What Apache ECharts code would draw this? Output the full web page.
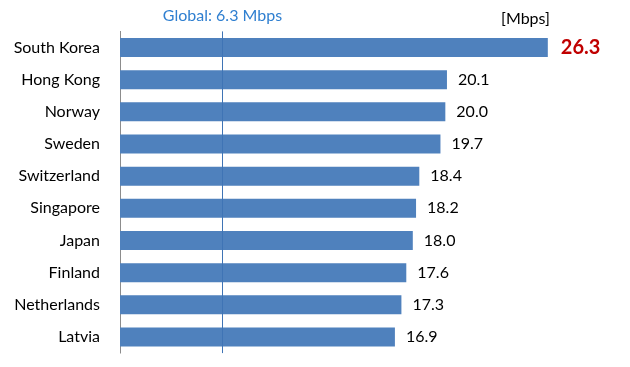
<!DOCTYPE html>
<html><head><meta charset="utf-8">
<script src="https://cdn.jsdelivr.net/npm/echarts@6/dist/echarts.min.js"></script>
<style>html,body{margin:0;padding:0;background:#fff}#c{width:630px;height:367px}</style>
</head><body><div id="c"></div>
<script>
const categories = ['South Korea','Hong Kong','Norway','Sweden','Switzerland','Singapore','Japan','Finland','Netherlands','Latvia'];
const speeds = [26.3, 20.1, 20.0, 19.7, 18.4, 18.2, 18.0, 17.6, 17.3, 16.9];
const globalAverage = 6.3;
const unitLabel = '[Mbps]';
const FONT = 'Lato';

const chart = echarts.init(document.getElementById('c'), null, {renderer:'canvas'});
const data = speeds.map((v, i) => i === 0 ? {
  value: v,
  label: {color:'#c00000', fontSize:20, fontWeight:'bold', distance:13}
} : v);

chart.setOption({
  animation:false,
  textStyle:{fontFamily:FONT},
  title:{text:unitLabel, left:496, top:6, textStyle:{fontFamily:FONT, fontSize:16, fontWeight:'normal', color:'#000'}},
  grid:{left:120, right:22, top:31.4, bottom:13.9},
  xAxis:{type:'value', min:0, max:30, show:false},
  yAxis:{type:'category', data:categories, inverse:true,
    axisLine:{show:true, lineStyle:{color:'#8c8c8c', width:1}},
    axisTick:{show:false},
    axisLabel:{color:'#000', fontSize:16, fontFamily:FONT, margin:20}},
  series:[{
    type:'bar', data:data, barCategoryGap:'41%',
    itemStyle:{color:'#4f81bd'},
    label:{show:true, position:'right', distance:11, color:'#000', fontSize:16, fontFamily:FONT,
      formatter:p => Number(p.value).toFixed(1)},
    markLine:{silent:true, symbol:'none', z:10,
      lineStyle:{color:'#3f74b5', width:1, type:'solid'},
      label:{show:true, position:'start', formatter:'Global: ' + globalAverage + ' Mbps', color:'#2f7fd0', fontSize:16, fontFamily:FONT, distance:8},
      data:[{xAxis:globalAverage}]}
  }]
});
</script></body></html>
